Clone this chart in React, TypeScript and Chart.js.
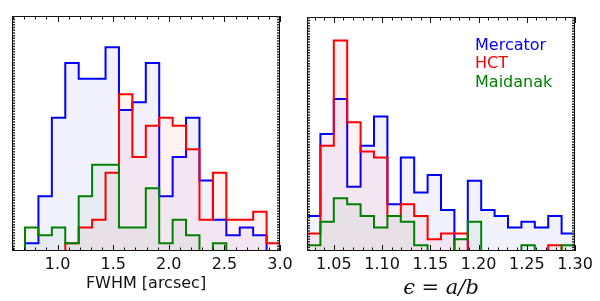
import React, { useEffect, useRef } from "react";
import { Chart, registerables } from "chart.js";

Chart.register(...registerables);

// ---- Data (histogram counts) ----
// Left panel: FWHM [arcsec], 19 bins between these edges
const fwhmEdges = [0.707, 3.0];
const fwhmMercator = [1, 7, 17, 24, 22, 22, 26, 18, 19, 24, 7, 12, 17, 9, 4, 2, 3, 2, 0];
const fwhmHCT = [0, 0, 0, 1, 3, 4, 10, 20, 12, 16, 17, 16, 13, 4, 10, 4, 4, 5, 1];
const fwhmMaidanak = [3, 2, 3, 1, 7, 11, 11, 3, 3, 8, 1, 4, 2, 0, 1, 0, 0, 0, 0];

// Right panel: ellipticity a/b, 20 bins between these edges
const ellEdges = [1.0222, 1.3];
const ellMercator = [6, 20, 26, 11, 18, 23, 8, 16, 10, 13, 7, 0, 12, 7, 6, 4, 5, 4, 6, 3];
const ellHCT = [3, 18, 36, 22, 17, 16, 6, 8, 6, 2, 3, 3, 0, 0, 0, 0, 0, 0, 1, 0];
const ellMaidanak = [1, 5, 9, 8, 6, 4, 6, 5, 1, 0, 0, 2, 5, 0, 0, 0, 1, 0, 0, 1];

const seriesNames = ["Mercator", "HCT", "Maidanak"];
const seriesColors = ["#0000ff", "#ff0000", "#008000"];
const seriesFills = ["rgba(0,0,255,0.05)", "rgba(255,0,0,0.05)", "rgba(0,100,0,0.05)"];

const fwhmAxis = { min: 0.59, max: 3.0, major: 0.5, minor: 0.1, yMax: 30, decimals: 1 };
const ellAxis = { min: 1.0222, max: 1.3, major: 0.05, minor: 0.01, yMax: 40, decimals: 2 };

function stepPoints(values: number[], start: number, end: number) {
  const w = (end - start) / values.length;
  const pts = [{ x: start, y: 0 }];
  values.forEach((v, i) => pts.push({ x: start + i * w, y: v }));
  pts.push({ x: end, y: 0 });
  return pts;
}

const framePlugin = {
  id: "frame",
  afterDraw(chart: any) {
    const opts = chart.options.plugins.frame || {};
    const { ctx, chartArea } = chart;
    const { left, right, top, bottom } = chartArea;
    const xs = chart.scales.x;
    ctx.save();
    ctx.strokeStyle = "#111";
    ctx.lineWidth = 1;
    ctx.setLineDash([]);
    ctx.strokeRect(left + 0.5, top + 0.5, right - left - 1, bottom - top - 1);
    // dashed-looking side edges (dense y ticks)
    ctx.lineWidth = 2;
    ctx.strokeStyle = "#333";
    ctx.setLineDash([1.5, 1.2]);
    ctx.beginPath();
    ctx.moveTo(left + 2, top);
    ctx.lineTo(left + 2, bottom);
    ctx.moveTo(right - 2, top);
    ctx.lineTo(right - 2, bottom);
    ctx.stroke();
    ctx.setLineDash([]);
    // inward x ticks top & bottom
    ctx.lineWidth = 1;
    ctx.strokeStyle = "#111";
    const minor = opts.minor;
    const major = opts.major;
    const n0 = Math.ceil(xs.min / minor - 1e-6);
    const n1 = Math.floor(xs.max / minor + 1e-6);
    ctx.beginPath();
    for (let n = n0; n <= n1; n++) {
      const v = n * minor;
      const isMajor = Math.abs(v / major - Math.round(v / major)) < 1e-4;
      const len = isMajor ? 6 : 3.5;
      const px = Math.round(xs.getPixelForValue(v)) + 0.5;
      ctx.moveTo(px, top);
      ctx.lineTo(px, top + len);
      ctx.moveTo(px, bottom);
      ctx.lineTo(px, bottom - len);
    }
    ctx.stroke();
    ctx.restore();
  },
};

const legendPlugin = {
  id: "textLegend",
  afterDraw(chart: any) {
    const opts = chart.options.plugins.textLegend;
    if (!opts || !opts.show) return;
    const { ctx, chartArea } = chart;
    const w = chartArea.right - chartArea.left;
    const x = chartArea.left + w * 0.627;
    ctx.save();
    ctx.font = "16px 'DejaVu Sans'";
    ctx.textAlign = "left";
    ctx.textBaseline = "alphabetic";
    seriesNames.forEach((name, i) => {
      ctx.fillStyle = seriesColors[i];
      ctx.fillText(name, x, chartArea.top + 33 + i * 18.4);
    });
    ctx.restore();
  },
};

function makeConfig(
  edges: number[],
  series: number[][],
  axis: any,
  title: string,
  titleFont: any,
  titlePad: any,
  padding: any,
  showLegend: boolean
) {
  const datasets = series.map((vals, i) => ({
    label: seriesNames[i],
    data: stepPoints(vals, edges[0], edges[1]),
    stepped: "before",
    borderColor: seriesColors[i],
    backgroundColor: seriesFills[i],
    borderWidth: 2,
    pointRadius: 0,
    fill: "origin",
    order: 3 - i,
  }));
  return {
    type: "line",
    data: { datasets },
    plugins: [framePlugin, legendPlugin],
    options: {
      responsive: false,
      animation: false,
      devicePixelRatio: 1,
      layout: { padding },
      plugins: {
        legend: { display: false },
        tooltip: { enabled: false },
        frame: { major: axis.major, minor: axis.minor },
        textLegend: { show: showLegend },
      },
      scales: {
        x: {
          type: "linear",
          min: axis.min,
          max: axis.max,
          grid: { display: false, drawTicks: false },
          border: { display: false },
          ticks: {
            stepSize: axis.major,
            includeBounds: false,
            autoSkip: false,
            maxRotation: 0,
            padding: 4,
            color: "#111",
            font: { family: "'DejaVu Sans'", size: 16 },
            callback: (v: number) => Number(v).toFixed(axis.decimals),
          },
          title: {
            display: true,
            text: title,
            color: "#111",
            font: titleFont,
            padding: titlePad,
          },
          afterFit: (scale: any) => {
            scale.height = 50;
          },
        },
        y: {
          display: false,
          min: 0,
          max: axis.yMax,
        },
      },
    },
  };
}

function Panel({ left, config }: { left: number; config: () => any }) {
  const ref = useRef<HTMLCanvasElement | null>(null);
  useEffect(() => {
    if (!ref.current) return;
    const chart = new Chart(ref.current, config());
    return () => chart.destroy();
  }, []);
  return (
    <canvas
      ref={ref}
      width={300}
      height={301}
      style={{ position: "absolute", left, top: 0, width: 300, height: 301 }}
    />
  );
}

export default function App() {
  return (
    <div
      style={{
        position: "fixed",
        left: 0,
        top: 0,
        width: 600,
        height: 301,
        background: "#fff",
        overflow: "hidden",
      }}
    >
      <Panel
        left={0}
        config={() =>
          makeConfig(
            fwhmEdges,
            [fwhmMercator, fwhmHCT, fwhmMaidanak],
            fwhmAxis,
            "FWHM [arcsec]",
            { family: "'DejaVu Sans'", size: 16 },
            { top: 0, bottom: 8 },
            { left: 12, right: 20, top: 16, bottom: 0 },
            false
          )
        }
      />
      <Panel
        left={300}
        config={() =>
          makeConfig(
            ellEdges,
            [ellMercator, ellHCT, ellMaidanak],
            ellAxis,
            "\u03f5 = a/b",
            { family: "'DejaVu Serif'", size: 21, style: "italic" },
            { top: 0, bottom: 0 },
            { left: 7, right: 25, top: 17, bottom: 0 },
            true
          )
        }
      />
    </div>
  );
}
